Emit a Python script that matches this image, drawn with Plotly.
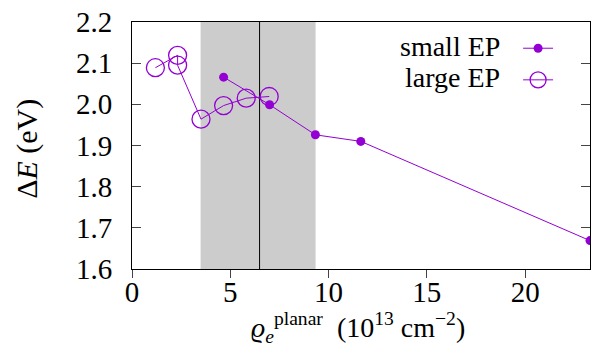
import plotly.graph_objects as go

# data
small_x = [4.66, 7.0, 9.33, 11.64, 23.3]
small_y = [2.066, 1.999, 1.926, 1.910, 1.669]
large_x = [1.19, 2.32, 2.32, 3.51, 4.66, 5.81, 6.98]
large_y = [2.089, 2.119, 2.095, 1.964, 1.997, 2.015, 2.019]
band_lo, band_hi = 3.49, 9.34
vline_x = 6.49
x_ticks = [0, 5, 10, 15, 20]
y_ticks = [1.6, 1.7, 1.8, 1.9, 2.0, 2.1, 2.2]
series_names = ["small EP", "large EP"]

PURPLE = "#9400D3"
FONT = "Liberation Serif"

fig = go.Figure()
fig.add_trace(go.Scatter(
    x=small_x, y=small_y, mode="lines+markers", name="",
    line=dict(color=PURPLE, width=1),
    marker=dict(symbol="circle", size=9, color=PURPLE),
))
fig.add_trace(go.Scatter(
    x=large_x, y=large_y, mode="lines+markers", name=" ",
    line=dict(color=PURPLE, width=1),
    marker=dict(symbol="circle-open", size=18, color=PURPLE, line=dict(width=1.3, color=PURPLE)),
))

fig.add_shape(type="rect", xref="x", yref="paper", x0=band_lo, x1=band_hi, y0=0, y1=1,
              fillcolor="#cccccc", line=dict(width=0), layer="below")
fig.add_shape(type="line", xref="x", yref="paper", x0=vline_x, x1=vline_x, y0=0, y1=1,
              line=dict(color="black", width=1), layer="below")

# legend labels (text left of samples, gnuplot style)
for name, yp in zip(series_names, [0.899, 0.775]):
    fig.add_annotation(text=name, xref="paper", yref="paper", x=0.808, y=yp,
                       xanchor="right", yanchor="middle", showarrow=False,
                       font=dict(family=FONT, size=28, color="black"))

fig.add_annotation(text="Δ<i>E</i> (eV)", xref="paper", yref="paper", x=-0.229, y=0.487,
                   textangle=-90, xanchor="center", yanchor="middle", showarrow=False,
                   font=dict(family=FONT, size=30, color="black"))
fig.add_annotation(text="<i>ϱ</i><sub><i>e</i></sub><sup>planar</sup>  (10<sup>13</sup> cm<sup>−2</sup>)",
                   xref="paper", yref="paper", x=0.494, y=-0.235,
                   xanchor="center", yanchor="middle", showarrow=False,
                   font=dict(family=FONT, size=28, color="black"))

fig.update_layout(
    width=592, height=349,
    margin=dict(l=132, r=2, t=22, b=80),
    plot_bgcolor="white", paper_bgcolor="white",
    font=dict(family=FONT, size=29, color="black"),
    showlegend=True,
    legend=dict(x=0.843, y=0.978, xanchor="left", yanchor="top",
                bgcolor="rgba(0,0,0,0)", borderwidth=0, font=dict(family=FONT, size=22),
                tracegroupgap=0),
)
fig.update_xaxes(range=[0, 23.3], tickvals=x_ticks, ticks="outside", ticklen=8,
                 showline=True, linecolor="black", linewidth=1, mirror=True,
                 showgrid=False, zeroline=False, ticklabelstandoff=-11,
                 tickfont=dict(family=FONT, size=29, color="black"))
fig.update_yaxes(range=[1.6, 2.2], tickvals=y_ticks, tickformat=".1f", ticks="inside", ticklen=9,
                 showline=True, linecolor="black", linewidth=1, mirror="ticks",
                 showgrid=False, zeroline=False, ticklabelstandoff=13,
                 tickfont=dict(family=FONT, size=29, color="black"))

fig.write_html("out.html")
